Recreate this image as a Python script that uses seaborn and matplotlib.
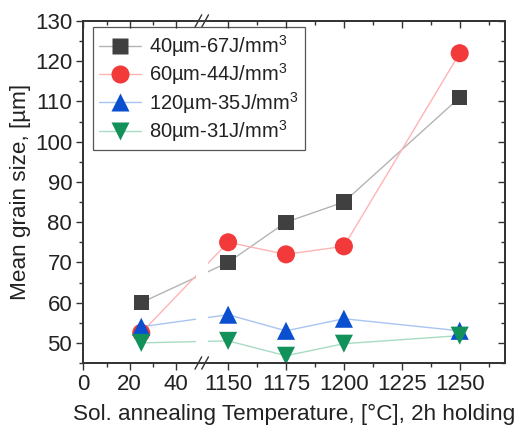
import numpy as np
import pandas as pd
import matplotlib
matplotlib.use('Agg')
import matplotlib.pyplot as plt
import seaborn as sns
from matplotlib.ticker import FixedLocator, MultipleLocator
from matplotlib.lines import Line2D

sns.set_style('ticks')
plt.rcParams['font.family'] = ['Liberation Sans', 'DejaVu Sans']
plt.rcParams['mathtext.fontset'] = 'custom'
plt.rcParams['mathtext.rm'] = 'Liberation Sans'
plt.rcParams['mathtext.it'] = 'Liberation Sans:italic'

temps = [25, 1150, 1175, 1200, 1250]
g40 = [60, 70, 80, 85, 111]
g60 = [52.5, 75, 72, 74, 122]
g120 = [54, 57, 53, 56, 53]
g80 = [50, 50.5, 46.8, 49.8, 51.8]

labels = ['40µm-67J/mm$^3$', '60µm-44J/mm$^3$', '120µm-35J/mm$^3$', '80µm-31J/mm$^3$']
series = [g40, g60, g120, g80]
mark_col = ['#404040', '#f23a3a', '#0a4fd0', '#13915a']
line_col = ['#b4b4b4', '#ffb4b4', '#a8c4f2', '#a8dcc4']
markers = ['s', 'o', '^', 'v']
msize = [11, 13, 13, 13]

# broken x axis: 0..50 and 1140..1270 on one scale
def fwd(t):
    t = np.asarray(t, dtype=float)
    return np.where(t < 600, t, t - 1087.5)

def inv(u):
    u = np.asarray(u, dtype=float)
    return np.where(u < 56, u, u + 1087.5)

fig = plt.figure(figsize=(5.21, 4.34), dpi=100)
ax = fig.add_axes([0.16, 0.1636, 0.809, 0.788])

for vals, lc, mc, mk, ms in zip(series, line_col, mark_col, markers, msize):
    df = pd.DataFrame({'T': temps, 'd': vals})
    sns.lineplot(data=df, x='T', y='d', color=lc, lw=1.0, ax=ax, zorder=2)
    sns.scatterplot(data=df, x='T', y='d', color=mc, marker=mk, s=ms ** 2,
                    edgecolor='none', ax=ax, zorder=4)

ax.set_xscale('function', functions=(fwd, inv))
ax.set_xlim(0, 1269.5)
ax.set_ylim(45, 130)

# white band over the lines at the break
ax.axvspan(48.5, 1141.5, color='white', zorder=3, lw=0)

xmaj = [0, 20, 40, 1150, 1175, 1200, 1225, 1250]
xmin = [10, 30, 1162.5, 1187.5, 1212.5, 1237.5, 1262.5]
ax.xaxis.set_major_locator(FixedLocator(xmaj))
ax.xaxis.set_minor_locator(FixedLocator(xmin))
ax.yaxis.set_major_locator(MultipleLocator(10))
ax.yaxis.set_minor_locator(MultipleLocator(5))
ax.tick_params(which='both', direction='out', width=1, colors='#333333',
               labelsize=16, labelcolor='#222222', top=False, right=False)
ax.tick_params(which='major', length=5, pad=3)
ax.tick_params(which='minor', length=3)

ax_t = ax.twiny()
ax_t.set_xscale('function', functions=(fwd, inv))
ax_t.set_xlim(ax.get_xlim())
ax_t.xaxis.set_major_locator(FixedLocator(xmaj))
ax_t.xaxis.set_minor_locator(FixedLocator(xmin))
ax_t.tick_params(which='both', direction='in', width=1, colors='#333333', labeltop=False)
ax_t.tick_params(which='major', length=5)
ax_t.tick_params(which='minor', length=3)

ax_r = ax.twinx()
ax_r.set_ylim(45, 130)
ax_r.yaxis.set_major_locator(MultipleLocator(10))
ax_r.yaxis.set_minor_locator(MultipleLocator(5))
ax_r.tick_params(which='both', direction='in', width=1, colors='#333333', labelright=False)
ax_r.tick_params(which='major', length=5)
ax_r.tick_params(which='minor', length=3)

for a in (ax, ax_t, ax_r):
    for sp in a.spines.values():
        sp.set_linewidth(1.1)
        sp.set_color('#333333')

# break marks
bx = 0.2808
for yy in (0, 1):
    ax.plot([bx - 0.012, bx + 0.012], [yy, yy], color='white', lw=3,
            transform=ax.transAxes, clip_on=False, zorder=10)
    for dx in (-0.008, 0.008):
        ax.plot([bx + dx - 0.008, bx + dx + 0.008], [yy - 0.018, yy + 0.018],
                color='#333333', lw=1, transform=ax.transAxes, clip_on=False, zorder=11)

ax.set_xlabel('Sol. annealing Temperature, [°C], 2h holding', fontsize=16.2,
              color='#222222', labelpad=6)
ax.set_ylabel('Mean grain size, [µm]', fontsize=16.2, color='#222222', labelpad=3)

handles = [Line2D([], [], color=lc, lw=1.0, marker=mk, markersize=ms,
                  markerfacecolor=mc, markeredgecolor='none')
           for lc, mc, mk, ms in zip(line_col, mark_col, markers, msize)]
leg = ax.legend(handles, labels, loc='upper left', bbox_to_anchor=(0.023, 0.982),
                borderaxespad=0, fontsize=14.5, frameon=True, fancybox=False,
                edgecolor='#555555', framealpha=1, labelspacing=0.12,
                handlelength=2.1, handletextpad=0.4, borderpad=0.3)
leg.get_frame().set_linewidth(0.9)
for t in leg.get_texts():
    t.set_color('#222222')
leg.set_zorder(20)

fig.savefig('out.png', dpi=100)
